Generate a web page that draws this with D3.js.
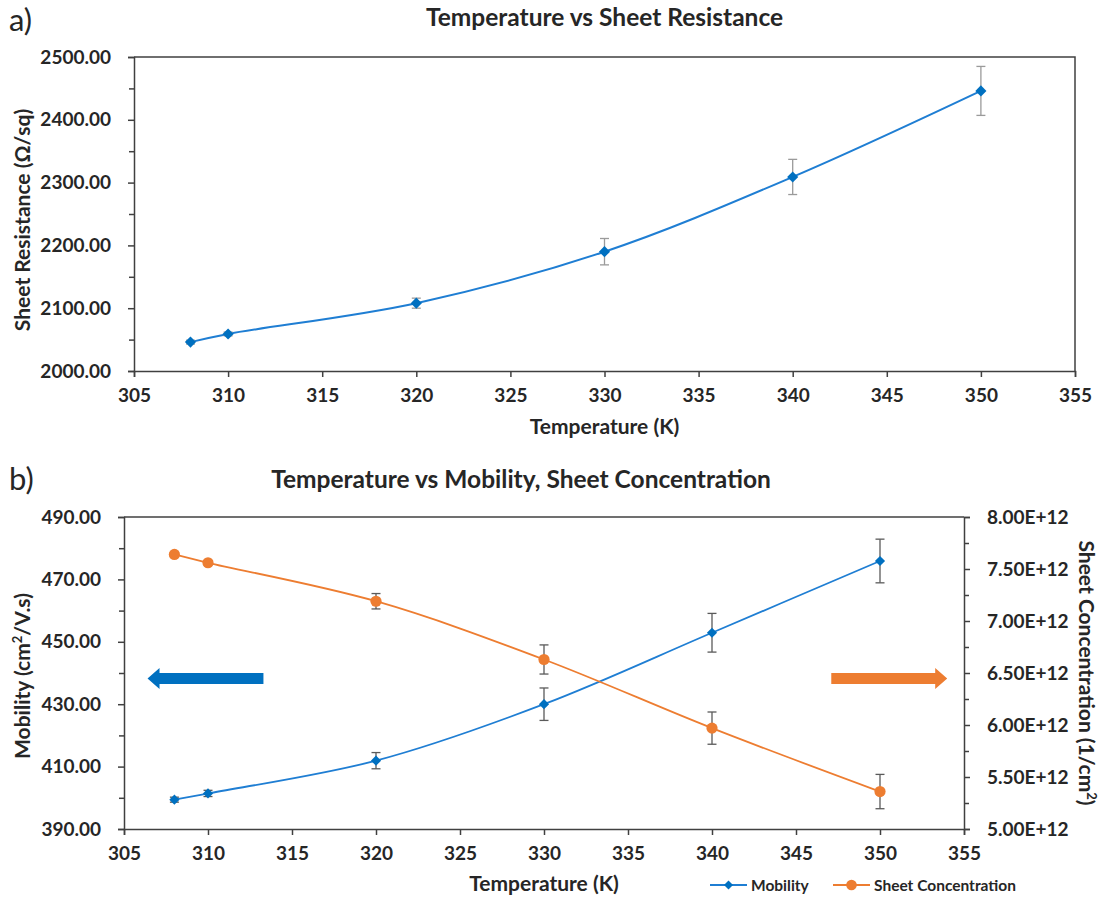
<!DOCTYPE html>
<html><head><meta charset="utf-8">
<script src="https://cdn.jsdelivr.net/npm/d3@7"></script>
<style>
body{margin:0;background:#fff}
svg{display:block}
text{font-family:Lato,"Open Sans",sans-serif;fill:#262626}
</style>
</head><body>
<svg id="chart" width="1099" height="900"></svg>
<script>
// ---------- data ----------
const temperatures = [308, 310, 320, 330, 340, 350];
const sheetResistance = [2046, 2059, 2108, 2190, 2309, 2446];
const sheetResistanceErr = [3, 3, 8, 21, 28, 39];
const mobility = [399.4, 401.4, 411.9, 430.0, 452.9, 475.9];
const mobilityErr = [0.8, 1.0, 2.6, 5.2, 6.2, 7.0];
const sheetConcentration = [7.64e12, 7.56e12, 7.19e12, 6.63e12, 5.97e12, 5.36e12];
const sheetConcentrationErr = [0.02e12, 0.02e12, 0.074e12, 0.14e12, 0.155e12, 0.165e12];
const tempTicks = [305, 310, 315, 320, 325, 330, 335, 340, 345, 350, 355];
const resistanceTicks = [2000, 2100, 2200, 2300, 2400, 2500];
const resistanceMinor = [2050, 2150, 2250, 2350, 2450];
const mobilityTicks = [390, 410, 430, 450, 470, 490];
const mobilityMinor = [400, 420, 440, 460, 480];
const concTicks = [5.0e12, 5.5e12, 6.0e12, 6.5e12, 7.0e12, 7.5e12, 8.0e12];
const concMinor = [5.25e12, 5.75e12, 6.25e12, 6.75e12, 7.25e12, 7.75e12];
const legendLabels = ["Mobility", "Sheet Concentration"];

// ---------- styles ----------
const BLUE = "#0070C0", BLUE_LINE = "#1F7ED3", ORANGE = "#ED7D31";
const AXIS = "#404040";
const FONT_TICK = "19px", FONT_TITLE = "24.5px", FONT_AXT = "21px";

const svg = d3.select("#chart");
const curve = d3.curveCatmullRom.alpha(0.5);
const fmt2 = d3.format(".2f");
const fmtE = v => (v / 1e12).toFixed(2) + "E+12";
const data = temperatures.map((t, i) => ({t, r: sheetResistance[i], re: sheetResistanceErr[i],
  m: mobility[i], me: mobilityErr[i], c: sheetConcentration[i], ce: sheetConcentrationErr[i]}));

function styleAxis(g, size) {
  g.select(".domain").attr("stroke", AXIS).attr("stroke-width", 1.5);
  g.selectAll(".tick line").attr("stroke", AXIS).attr("stroke-width", 1.5);
  g.selectAll(".tick text").attr("fill", "#262626").style("font-size", size || FONT_TICK).style("font-weight", "700");
}

function errorBars(g, x, y, key, errKey, color) {
  const eb = g.append("g").attr("stroke", color).attr("stroke-width", 1.3).attr("fill", "none");
  data.forEach(d => {
    const cx = x(d.t), y1 = y(d[key] - d[errKey]), y2 = y(d[key] + d[errKey]);
    eb.append("line").attr("x1", cx).attr("x2", cx).attr("y1", y1).attr("y2", y2);
    eb.append("line").attr("x1", cx - 4.5).attr("x2", cx + 4.5).attr("y1", y1).attr("y2", y1);
    eb.append("line").attr("x1", cx - 4.5).attr("x2", cx + 4.5).attr("y1", y2).attr("y2", y2);
  });
}

// =============== Chart a ===============
{
  const L = 134, R = 1075, T = 57, B = 371;
  const x = d3.scaleLinear().domain([305, 355]).range([L, R]);
  const y = d3.scaleLinear().domain([2000, 2500]).range([B, T]);
  const g = svg.append("g");

  svg.append("text").attr("x", 9).attr("y", 31).style("font-size", "31px").style("font-weight", "400").text("a)");
  svg.append("text").attr("x", (L + R) / 2).attr("y", 26).attr("text-anchor", "middle")
    .style("font-size", FONT_TITLE).style("font-weight", "700").text("Temperature vs Sheet Resistance");

  // frame
  g.append("path").attr("d", `M${L},${T}H${R}V${B}`).attr("fill", "none").attr("stroke", AXIS).attr("stroke-width", 1.5);

  g.append("g").attr("transform", `translate(0,${B})`)
    .call(d3.axisBottom(x).tickValues(tempTicks).tickFormat(d3.format("d")).tickSize(6).tickPadding(12))
    .call(a => styleAxis(a));
  g.append("g").attr("transform", `translate(${L},0)`)
    .call(d3.axisLeft(y).tickValues(resistanceTicks).tickFormat(fmt2).tickSize(6).tickPadding(17))
    .call(a => styleAxis(a));
  g.append("g").attr("transform", `translate(${L},0)`)
    .call(d3.axisLeft(y).tickValues(resistanceMinor).tickFormat("").tickSize(5))
    .call(a => { styleAxis(a); a.select(".domain").remove(); });

  const line = d3.line().x(d => x(d.t)).y(d => y(d.r)).curve(curve);
  g.append("path").datum(data).attr("d", line).attr("fill", "none").attr("stroke", BLUE_LINE).attr("stroke-width", 2);
  errorBars(g, x, y, "r", "re", "#9a9a9a");
  g.selectAll(".mk").data(data).join("path")
    .attr("transform", d => `translate(${x(d.t)},${y(d.r)}) rotate(45)`)
    .attr("d", d3.symbol(d3.symbolSquare, 62)()).attr("fill", BLUE);

  svg.append("text").attr("x", (L + R) / 2).attr("y", 434).attr("text-anchor", "middle")
    .style("font-size", FONT_AXT).style("font-weight", "700").text("Temperature (K)");
  svg.append("text").attr("transform", `translate(30,${(T + B) / 2 + 6}) rotate(-90)`).attr("text-anchor", "middle")
    .style("font-size", FONT_AXT).style("font-weight", "700").text("Sheet Resistance (Ω/sq)");
}

// =============== Chart b ===============
{
  const L = 124, R = 964, T = 517, B = 829;
  const x = d3.scaleLinear().domain([305, 355]).range([L, R]);
  const yM = d3.scaleLinear().domain([390, 490]).range([B, T]);
  const yC = d3.scaleLinear().domain([5e12, 8e12]).range([B, T]);
  const g = svg.append("g");

  svg.append("text").attr("x", 9).attr("y", 490).style("font-size", "31px").style("font-weight", "400").text("b)");
  svg.append("text").attr("x", 521).attr("y", 488).attr("text-anchor", "middle")
    .style("font-size", FONT_TITLE).style("font-weight", "700").text("Temperature vs Mobility, Sheet Concentration");

  g.append("line").attr("x1", L).attr("x2", R).attr("y1", T).attr("y2", T).attr("stroke", AXIS).attr("stroke-width", 1.5);

  g.append("g").attr("transform", `translate(0,${B})`)
    .call(d3.axisBottom(x).tickValues(tempTicks).tickFormat(d3.format("d")).tickSize(6).tickPadding(12))
    .call(a => styleAxis(a));
  g.append("g").attr("transform", `translate(${L},0)`)
    .call(d3.axisLeft(yM).tickValues(mobilityTicks).tickFormat(fmt2).tickSize(6).tickPadding(17))
    .call(a => styleAxis(a));
  g.append("g").attr("transform", `translate(${L},0)`)
    .call(d3.axisLeft(yM).tickValues(mobilityMinor).tickFormat("").tickSize(5))
    .call(a => { styleAxis(a); a.select(".domain").remove(); });
  g.append("g").attr("transform", `translate(${R},0)`)
    .call(d3.axisRight(yC).tickValues(concTicks).tickFormat(fmtE).tickSize(6).tickPadding(17))
    .call(a => styleAxis(a));
  g.append("g").attr("transform", `translate(${R},0)`)
    .call(d3.axisRight(yC).tickValues(concMinor).tickFormat("").tickSize(5))
    .call(a => { styleAxis(a); a.select(".domain").remove(); });

  // arrows (annotation, positioned in data space)
  const arrow = (x0, x1, yc, dir, color) => {
    const ym = yM(yc), hs = 5.5, hh = 10.5, hl = 12;
    const tip = x(dir < 0 ? x0 : x1), tail = x(dir < 0 ? x1 : x0);
    const base = tip - dir * hl;
    g.append("path").attr("fill", color)
      .attr("d", `M${tail},${ym - hs}L${base},${ym - hs}L${base},${ym - hh}L${tip},${ym}L${base},${ym + hh}L${base},${ym + hs}L${tail},${ym + hs}Z`);
  };
  arrow(306.4, 313.3, 438.2, -1, BLUE);
  arrow(347.1, 354.0, 438.2, 1, ORANGE);

  // Mobility
  const lineM = d3.line().x(d => x(d.t)).y(d => yM(d.m)).curve(curve);
  g.append("path").datum(data).attr("d", lineM).attr("fill", "none").attr("stroke", BLUE_LINE).attr("stroke-width", 1.8);
  // Concentration
  const lineC = d3.line().x(d => x(d.t)).y(d => yC(d.c)).curve(curve);
  g.append("path").datum(data).attr("d", lineC).attr("fill", "none").attr("stroke", ORANGE).attr("stroke-width", 1.8);

  errorBars(g, x, yM, "m", "me", "#5a5a5a");
  errorBars(g, x, yC, "c", "ce", "#5a5a5a");

  g.selectAll(".mkm").data(data).join("path")
    .attr("transform", d => `translate(${x(d.t)},${yM(d.m)}) rotate(45)`)
    .attr("d", d3.symbol(d3.symbolSquare, 52)()).attr("fill", BLUE);
  g.selectAll(".mkc").data(data).join("circle")
    .attr("cx", d => x(d.t)).attr("cy", d => yC(d.c)).attr("r", 5.6).attr("fill", ORANGE);

  svg.append("text").attr("x", (L + R) / 2).attr("y", 891).attr("text-anchor", "middle")
    .style("font-size", FONT_AXT).style("font-weight", "700").text("Temperature (K)");

  const ml = svg.append("text").attr("transform", `translate(30,${(T + B) / 2 + 3}) rotate(-90)`).attr("text-anchor", "middle")
    .style("font-size", FONT_AXT).style("font-weight", "700");
  ml.append("tspan").text("Mobility (cm");
  ml.append("tspan").attr("dy", -8).style("font-size", "13px").text("2");
  ml.append("tspan").attr("dy", 8).text("/V.s)");

  const cl = svg.append("text").attr("transform", `translate(1079,${(T + B) / 2}) rotate(90)`).attr("text-anchor", "middle")
    .style("font-size", FONT_AXT).style("font-weight", "700");
  cl.append("tspan").text("Sheet Concentration (1/cm");
  cl.append("tspan").attr("dy", -8).style("font-size", "13px").text("2");
  cl.append("tspan").attr("dy", 8).text(")");

  // legend
  const lg = svg.append("g");
  const items = [{label: legendLabels[0], color: BLUE, line: BLUE_LINE, x0: 710, sym: "d"},
                 {label: legendLabels[1], color: ORANGE, line: ORANGE, x0: 833, sym: "c"}];
  items.forEach(it => {
    lg.append("line").attr("x1", it.x0).attr("x2", it.x0 + 37).attr("y1", 885).attr("y2", 885)
      .attr("stroke", it.line).attr("stroke-width", 1.8);
    if (it.sym === "d") lg.append("path").attr("transform", `translate(${it.x0 + 18.5},885) rotate(45)`)
      .attr("d", d3.symbol(d3.symbolSquare, 40)()).attr("fill", it.color);
    else lg.append("circle").attr("cx", it.x0 + 18.5).attr("cy", 885).attr("r", 5.3).attr("fill", it.color);
    lg.append("text").attr("x", it.x0 + 41).attr("y", 890.5).style("font-size", "15.5px").style("font-weight", "700").text(it.label);
  });
}
</script>
</body></html>
